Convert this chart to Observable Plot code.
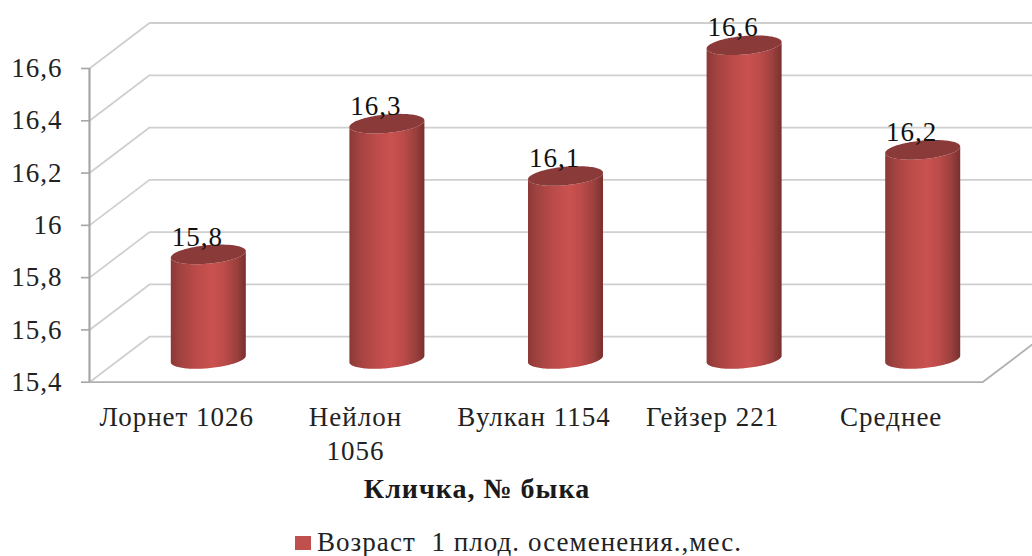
<!DOCTYPE html>
<html lang="ru">
<head>
<meta charset="utf-8">
<script src="https://cdn.jsdelivr.net/npm/d3@7"></script>
<script src="https://cdn.jsdelivr.net/npm/@observablehq/plot@0.6"></script>
<style>
  html, body { margin: 0; padding: 0; background: #fff; overflow: hidden; }
  #legend { display: flex; align-items: center; height: 31px; padding-left: 295px; font: 27px "Liberation Serif", serif; letter-spacing: 1.05px; color: #222; white-space: pre; }
  #legend i { display: block; width: 16px; height: 14px; background: #C0504D; margin-right: 6px; position: relative; top: 2px; }
  #legend span { position: relative; top: 2px; }
</style>
</head>
<body>
<div id="chart"></div>
<div id="legend"></div>
<script>
const categories = ["Лорнет 1026", "Нейлон\n1056", "Вулкан 1154", "Гейзер 221", "Среднее"];
const values = [15.8, 16.3, 16.1, 16.6, 16.2];
const valueLabels = ["15,8", "16,3", "16,1", "16,6", "16,2"];
const yTicks = [15.4, 15.6, 15.8, 16, 16.2, 16.4, 16.6];
const xTitle = "Кличка, № быка";
const seriesName = "Возраст  1 плод. осеменения.,мес.";

const font = "Liberation Serif";
const fs = 27;
const depthX = 0.336, depthY = 0.174;   // 3D depth of the floor, in scale units
const halfW = 0.21, shear = 0.0125, halfH = 0.0355;  // cylinder ellipse, in scale units
const baseV = yTicks[0] + depthY / 2;
const bars = categories.map((name, i) => ({
  name, v: values[i] + depthY / 2, label: valueLabels[i], cx: i + 0.5 + depthX / 2
}));

const angles = d3.range(0, 61).map(k => Math.PI * (1 - k / 60));
const edge = (v, t, side) => v + shear * Math.cos(t) + side * halfH * Math.sin(t);
const bodyPts = bars.flatMap(b => angles.map(t => ({
  name: b.name, x: b.cx + halfW * Math.cos(t), y1: edge(baseV, t, -1), y2: edge(b.v, t, -1)
})));
const topPts = bars.flatMap(b => angles.map(t => ({
  name: b.name, x: b.cx + halfW * Math.cos(t), y1: edge(b.v, t, -1), y2: edge(b.v, t, 1)
})));

const n = categories.length;
const gridPts = yTicks.flatMap(v => [
  {v, x: 0, y: v},
  {v, x: depthX, y: v + depthY},
  {v, x: n + depthX, y: v + depthY}
]);
const floorFront = [
  {x: 0, y: yTicks[0]}, {x: n, y: yTicks[0]}, {x: n + depthX, y: yTicks[0] + depthY}
];

function gradientDefs() {
  const defs = d3.create("svg:defs");
  const g = defs.append("linearGradient").attr("id", "cyl").attr("x1", 0).attr("x2", 1).attr("y1", 0).attr("y2", 0);
  [[0, "#8c3836"], [0.12, "#a04240"], [0.32, "#b94a48"], [0.55, "#ca5250"], [0.72, "#bb4b49"], [0.88, "#9b403e"], [1, "#78302e"]]
    .forEach(([o, c]) => g.append("stop").attr("offset", o).attr("stop-color", c));
  return defs.node();
}

const chart = Plot.plot({
  width: 1032, height: 525,
  marginLeft: 89, marginRight: 50, marginTop: 68, marginBottom: 143.3,
  style: {fontFamily: font, background: "#fff", overflow: "hidden", color: "#222", letterSpacing: "1px"},
  x: {domain: [0, n], axis: null},
  y: {domain: [yTicks[0], yTicks[yTicks.length - 1]], axis: null},
  marks: [
    gradientDefs,
    Plot.line(gridPts, {x: "x", y: "y", z: "v", stroke: "#cfcfcf", strokeWidth: 1.8}),
    Plot.line(floorFront, {x: "x", y: "y", stroke: "#b0b0b0", strokeWidth: 1.8}),
    Plot.axisY({
      ticks: yTicks, tickFormat: d => String(d).replace(".", ","), tickSize: 8, tickPadding: 19,
      stroke: "#a6a6a6", strokeWidth: 1.6, fill: "#222", fontSize: fs, label: null
    }),
    Plot.ruleX([0], {y1: yTicks[0], y2: yTicks[yTicks.length - 1], stroke: "#a6a6a6", strokeWidth: 2.2}),
    Plot.text(bars, {
      x: (d, i) => i + 0.5, y: yTicks[0], text: "name", dx: -2, dy: 20, lineAnchor: "top",
      lineHeight: 1.26, fontSize: fs, fill: "#222"
    }),
    Plot.text([xTitle], {
      frameAnchor: "bottom", text: d => d, dx: -59, dy: 107, lineAnchor: "middle",
      fontSize: 28, fontWeight: "bold", fill: "#1a1a1a"
    }),
    Plot.area(bodyPts, {x1: "x", y1: "y1", y2: "y2", z: "name", fill: "url(#cyl)", curve: "linear"}),
    Plot.area(topPts, {x1: "x", y1: "y1", y2: "y2", z: "name", fill: "#8a3a38", curve: "linear"}),
    Plot.text(bars, {
      x: "cx", y: "v", text: "label", dx: -11.5, dy: -18, lineAnchor: "middle",
      fontSize: fs, fill: "#111"
    })
  ]
});
document.getElementById("chart").append(chart);

const legend = document.getElementById("legend");
const sw = document.createElement("i");
const lab = document.createElement("span");
lab.textContent = seriesName;
legend.append(sw, lab);
</script>
</body>
</html>
